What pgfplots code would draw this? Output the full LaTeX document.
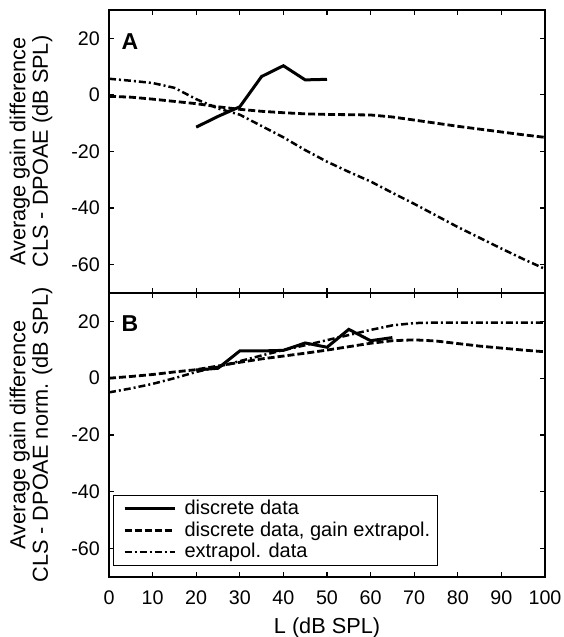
\documentclass[border=0pt]{standalone}
\usepackage{pgfplots}
\pgfplotsset{compat=1.18}
\usepackage{fontspec}
\setmainfont{Liberation Sans}
\begin{document}
\fontsize{19.7}{22}\selectfont
\begin{tikzpicture}
\useasboundingbox (-109pt,-60pt) rectangle (454pt,577pt);
\pgfplotsset{
  panel/.style={
    scale only axis, width=436pt,
    xmin=0, xmax=100, ymin=-70, ymax=30,
    xtick={0,10,...,100}, ytick={-60,-40,...,20},
    tick align=inside, xtick pos=both, ytick pos=both,
    major tick length=5pt,
    every tick/.style={black, line width=1.2pt},
    axis line style={line width=1.8pt},
    /pgf/number format/assume math mode=true,
    tick label style={font=\fontsize{19.7}{22}\selectfont},
    yticklabel style={xshift=-2.5pt},
    xticklabel style={yshift=-7pt},
    ylabel style={at={(axis description cs:-0.179,0.5)}, anchor=center, align=center, font=\fontsize{21.7}{22.5}\selectfont},
    clip=true,
  },
  solidline/.style={black, line width=3pt, solid},
  dashline/.style={black, line width=2.8pt, dash pattern=on 7pt off 3pt},
  dotdash/.style={black, line width=2.5pt, dash pattern=on 7pt off 3pt on 2pt off 3pt},
}
% Panel A
\begin{axis}[panel, height=283pt, at={(0pt,284pt)}, anchor=south west,
  xticklabels={},
  ylabel={Average gain difference\\CLS - DPOAE (dB SPL)}]
\addplot[solidline] coordinates {(20,-11.4) (25,-7.6) (30,-4.2) (35,6.5) (40,10.3) (45,5.3) (50,5.5)};
\addplot[dashline] coordinates {(0,-0.5) (5,-0.8) (10,-1.5) (15,-2.3) (20,-3.1) (25,-4.2) (30,-5.1) (35,-5.8) (40,-6.3) (45,-6.7) (50,-6.9) (55,-7.0) (60,-7.1) (65,-7.8) (70,-8.9) (75,-10.0) (80,-11.1) (85,-12.1) (90,-13.1) (95,-14.1) (100,-15.0)};
\addplot[dotdash] coordinates {(0,5.7) (5,5.0) (10,4.2) (15,2.5) (20,-1.5) (25,-4.8) (30,-7.0) (35,-11.0) (40,-15.0) (45,-19.5) (50,-23.6) (55,-27.2) (60,-30.6) (65,-34.6) (70,-38.5) (75,-42.6) (80,-46.7) (85,-50.5) (90,-54.3) (95,-58.0) (100,-61.5)};
\node[font=\fontsize{23}{24}\selectfont\bfseries] at (axis description cs:0.048,0.889) {A};
\end{axis}
% Panel B
\begin{axis}[panel, height=284pt, at={(0pt,0pt)}, anchor=south west,
  xlabel={L (dB SPL)},
  xlabel style={at={(axis description cs:0.5,0)}, anchor=base, yshift=-56pt, font=\fontsize{21.7}{22.5}\selectfont},
  ylabel={Average gain difference\\CLS - DPOAE norm. (dB SPL)},
  legend style={at={(axis description cs:0.0092,0.0387)}, anchor=south west,
    draw=black, line width=1pt, fill=white,
    inner xsep=4pt, inner ysep=3pt, row sep=0pt,
    cells={anchor=west},
    font=\fontsize{20}{22}\selectfont},
  legend image code/.code={\path[draw=none,fill=none] (0pt,-1pt) rectangle (65pt,1pt); \draw[#1] (7pt,0pt) -- (57pt,0pt);},
  legend cell align=left]
\addplot[solidline] coordinates {(20,2.9) (25,3.5) (30,9.6) (35,9.6) (40,9.8) (45,12.4) (50,10.9) (55,17.2) (60,13.2) (65,14.3)};
\addlegendentry{\makebox[247pt][l]{discrete data}}
\addplot[dashline] coordinates {(0,0.0) (5,0.6) (10,1.3) (15,2.2) (20,3.0) (25,4.3) (30,5.6) (35,6.8) (40,7.8) (45,8.8) (50,9.9) (55,11.1) (60,12.3) (65,13.2) (70,13.5) (75,13.1) (80,12.2) (85,11.3) (90,10.6) (95,9.9) (100,9.3)};
\addlegendentry{discrete data, gain extrapol.}
\addplot[dotdash] coordinates {(0,-5.0) (5,-3.6) (10,-2.0) (15,0.0) (20,2.2) (25,4.0) (30,6.0) (35,8.0) (40,9.9) (45,11.6) (50,13.4) (55,15.2) (60,17.0) (65,18.6) (70,19.4) (75,19.6) (80,19.6) (90,19.6) (100,19.6)};
\addlegendentry{extrapol. data}
\node[font=\fontsize{23}{24}\selectfont\bfseries] at (axis description cs:0.048,0.894) {B};
\end{axis}
\end{tikzpicture}
\end{document}
